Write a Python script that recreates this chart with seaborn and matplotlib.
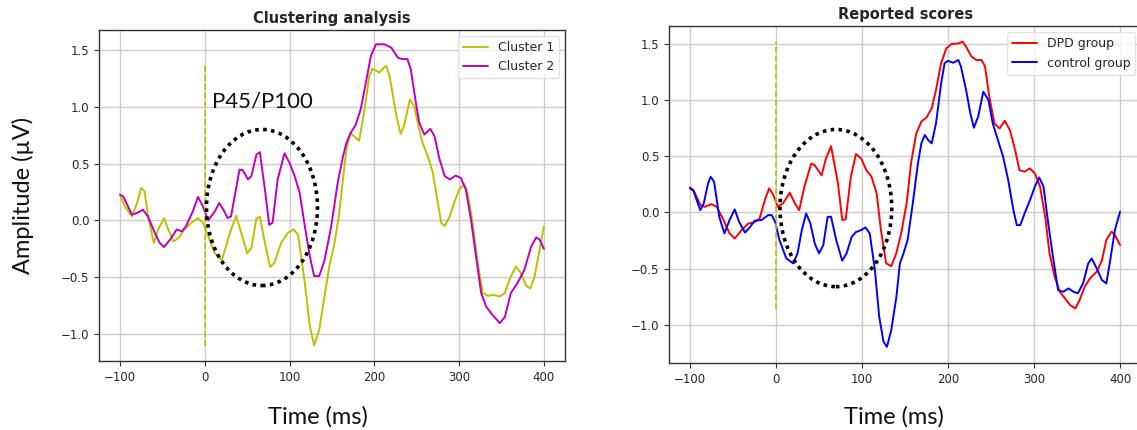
import numpy as np
import pandas as pd
import seaborn as sns
import matplotlib
matplotlib.use("Agg")
import matplotlib.pyplot as plt
from matplotlib.patches import Ellipse

# ---- data (time in ms, amplitude in uV) ----
t_cluster1 = [-100, -94, -86, -80, -75, -71, -67, -60, -55, -48, -43, -37, -31, -24, -16, -8, -2,
              4, 12, 20, 25, 31, 37, 43, 50, 55, 61, 65, 71, 77, 82, 90, 98, 105, 110, 118, 124,
              129, 135, 141, 147, 153, 158, 163, 167, 172, 176, 182, 188, 194, 198, 206, 210, 214,
              218, 226, 231, 235, 242, 247, 253, 257, 263, 269, 275, 279, 283, 289, 294, 300, 306,
              310, 316, 322, 328, 334, 340, 348, 354, 361, 367, 373, 379, 384, 389, 395, 400]
v_cluster1 = [0.226, 0.12, 0.035, 0.15, 0.285, 0.256, 0.035, -0.2, -0.08, 0.02, -0.08, -0.185,
              -0.156, -0.08, -0.024, 0.02, -0.024, -0.14, -0.29, -0.35, -0.23, -0.08, 0.04, -0.11,
              -0.29, -0.244, 0.02, 0.03, -0.2, -0.41, -0.376, -0.2, -0.11, -0.08, -0.126, -0.55,
              -0.935, -1.1, -0.965, -0.68, -0.4, -0.2, 0.03, 0.36, 0.62, 0.77, 0.74, 0.70, 0.95,
              1.27, 1.335, 1.30, 1.335, 1.36, 1.27, 0.92, 0.76, 0.83, 1.065, 1.005, 0.80, 0.68,
              0.565, 0.42, 0.15, -0.024, -0.05, 0.035, 0.153, 0.27, 0.32, 0.24, -0.024, -0.376,
              -0.64, -0.665, -0.656, -0.67, -0.64, -0.494, -0.406, -0.465, -0.576, -0.6, -0.494,
              -0.26, -0.053]

t_cluster2 = [-100, -96, -86, -80, -73, -67, -59, -53, -48, -41, -33, -27, -22, -14, -8, -2, 4,
              12, 17, 22, 27, 31, 41, 45, 51, 55, 61, 65, 71, 76, 80, 86, 94, 100, 106, 112, 118,
              124, 129, 135, 141, 149, 157, 163, 167, 172, 178, 184, 190, 196, 202, 212, 220, 228,
              233, 239, 243, 249, 253, 259, 266, 271, 277, 283, 289, 296, 302, 308, 314, 320, 326,
              332, 338, 348, 354, 361, 369, 377, 385, 391, 395, 400]
v_cluster2 = [0.226, 0.21, 0.05, 0.065, 0.094, 0.035, -0.11, -0.2, -0.235, -0.17, -0.08, -0.097,
              -0.05, 0.08, 0.206, 0.12, 0.0, 0.08, 0.153, 0.094, 0.02, 0.035, 0.447, 0.44, 0.36,
              0.39, 0.58, 0.6, 0.27, -0.04, -0.02, 0.36, 0.59, 0.506, 0.39, 0.24, -0.05, -0.32,
              -0.49, -0.49, -0.36, -0.06, 0.34, 0.56, 0.68, 0.77, 0.84, 0.98, 1.21, 1.45, 1.55,
              1.55, 1.52, 1.43, 1.42, 1.42, 1.33, 1.035, 0.86, 0.756, 0.806, 0.74, 0.535, 0.39,
              0.36, 0.394, 0.373, 0.27, 0.006, -0.32, -0.64, -0.76, -0.82, -0.905, -0.85, -0.64,
              -0.55, -0.435, -0.23, -0.15, -0.17, -0.25]

t_dpd = [-100, -96, -88, -83, -75, -69, -61, -54, -48, -40, -32, -26, -19, -13, -8, -3, 2, 8, 16,
         22, 27, 33, 41, 45, 53, 58, 64, 72, 77, 81, 87, 93, 99, 105, 111, 117, 122, 128, 134,
         140, 146, 152, 157, 163, 169, 175, 181, 186, 192, 198, 204, 212, 217, 221, 227, 233,
         239, 243, 248, 254, 260, 266, 272, 278, 283, 289, 295, 301, 307, 313, 318, 324, 330,
         336, 342, 348, 353, 359, 365, 373, 379, 384, 390, 394, 400]
v_dpd = [0.223, 0.2, 0.065, 0.05, 0.074, 0.05, -0.068, -0.187, -0.232, -0.157, -0.098, -0.092,
         -0.053, 0.11, 0.214, 0.154, 0.05, 0.08, 0.175, 0.08, 0.02, 0.23, 0.436, 0.42, 0.33,
         0.48, 0.59, 0.26, -0.068, -0.062, 0.318, 0.52, 0.48, 0.377, 0.318, 0.17, -0.157,
         -0.454, -0.478, -0.36, -0.17, 0.09, 0.44, 0.70, 0.81, 0.846, 0.926, 1.09, 1.33, 1.46,
         1.5, 1.505, 1.52, 1.476, 1.39, 1.357, 1.357, 1.3, 1.03, 0.79, 0.748, 0.816, 0.733,
         0.555, 0.377, 0.362, 0.392, 0.347, 0.23, -0.039, -0.365, -0.573, -0.707, -0.766,
         -0.825, -0.855, -0.78, -0.66, -0.588, -0.528, -0.425, -0.246, -0.172, -0.2, -0.29]

t_control = [-100, -96, -88, -84, -79, -76, -72, -66, -60, -54, -48, -43, -36, -30, -25, -17, -9,
             -5, -1, 4, 12, 20, 25, 30, 35, 40, 45, 50, 55, 60, 64, 70, 77, 82, 88, 93, 99, 104,
             109, 115, 120, 125, 129, 134, 140, 144, 148, 153, 159, 165, 169, 173, 177, 181, 186,
             192, 196, 200, 206, 212, 215, 221, 226, 230, 235, 241, 247, 252, 258, 264, 270, 276,
             280, 284, 289, 295, 301, 306, 311, 316, 322, 328, 334, 340, 346, 351, 357, 363, 367,
             373, 379, 384, 388, 394, 400]
v_control = [0.214, 0.193, 0.02, 0.08, 0.258, 0.318, 0.273, -0.039, -0.187, -0.068, 0.027,
             -0.083, -0.18, -0.128, -0.074, -0.068, -0.024, -0.024, -0.083, -0.246, -0.41, -0.454,
             -0.365, -0.157, -0.009, -0.098, -0.276, -0.365, -0.29, -0.039, -0.039, -0.246, -0.43,
             -0.365, -0.217, -0.175, -0.157, -0.134, -0.187, -0.514, -0.93, -1.152, -1.197,
             -1.048, -0.75, -0.454, -0.37, -0.246, 0.08, 0.436, 0.615, 0.69, 0.644, 0.615, 0.793,
             1.149, 1.33, 1.35, 1.333, 1.357, 1.3, 1.09, 0.88, 0.754, 0.852, 1.075, 1.0, 0.793,
             0.644, 0.496, 0.288, 0.02, -0.113, -0.113, -0.009, 0.104, 0.23, 0.312, 0.23, -0.068,
             -0.395, -0.692, -0.707, -0.677, -0.707, -0.72, -0.632, -0.454, -0.41, -0.5, -0.603,
             -0.632, -0.454, -0.157, 0.006]

onset_ms = 0
onset_span_left = [-1.11, 1.36]
onset_span_right = [-0.86, 1.52]
# dotted ellipse: centre (ms, uV), width (ms), height (uV)
ellipse_left = [(67.5, 0.113), 131, 1.374]
ellipse_right = [(69.6, 0.039), 130, 1.40]

sns.set_style("ticks", {"axes.grid": True, "grid.color": "#cccccc",
                        "axes.edgecolor": "#333333"})
plt.rcParams["xtick.labelsize"] = 8.5
plt.rcParams["ytick.labelsize"] = 8.5
plt.rcParams["grid.linewidth"] = 1.0
plt.rcParams["axes.linewidth"] = 1.0

fig = plt.figure(figsize=(11.37, 4.30), dpi=100)
ax1 = fig.add_axes([0.0871, 0.1605, 0.4099, 0.7698])
ax2 = fig.add_axes([0.5884, 0.1558, 0.4156, 0.7837])

df1 = pd.DataFrame({"t": t_cluster1, "v": v_cluster1})
df2 = pd.DataFrame({"t": t_cluster2, "v": v_cluster2})
df3 = pd.DataFrame({"t": t_dpd, "v": v_dpd})
df4 = pd.DataFrame({"t": t_control, "v": v_control})

sns.lineplot(data=df1, x="t", y="v", color="y", lw=1.4, label="Cluster 1", estimator=None, ax=ax1)
sns.lineplot(data=df2, x="t", y="v", color="m", lw=1.4, label="Cluster 2", estimator=None, ax=ax1)
sns.lineplot(data=df3, x="t", y="v", color="r", lw=1.4, label="DPD group", estimator=None, ax=ax2)
sns.lineplot(data=df4, x="t", y="v", color="b", lw=1.4, label="control group", estimator=None, ax=ax2)

ax1.plot([onset_ms, onset_ms], onset_span_left, "y--", lw=1.2)
ax2.plot([onset_ms, onset_ms], onset_span_right, "y--", lw=1.2)

for ax, (c, w, h) in [(ax1, ellipse_left), (ax2, ellipse_right)]:
    ax.add_patch(Ellipse(c, w, h, fill=False, edgecolor="black", lw=2.6,
                         linestyle=(0, (1, 1.2)), zorder=5))

ax1.text(8, 0.99, "P45/P100", fontsize=16, family=["Lato", "DejaVu Sans"],
         ha="left", va="baseline", color="#111111")

ax1.set_xlim(-124.7, 425)
ax1.set_ylim(-1.238, 1.676)
ax2.set_xlim(-124.4, 425)
ax2.set_ylim(-1.341, 1.66)

for ax, title in [(ax1, "Clustering analysis"), (ax2, "Reported scores")]:
    ax.set_xticks([-100, 0, 100, 200, 300, 400])
    ax.set_yticks([-1.0, -0.5, 0.0, 0.5, 1.0, 1.5])
    ax.set_xlabel("")
    ax.set_ylabel("")
    ax.set_title(title, fontsize=10.5, fontweight="bold", pad=5)
    ax.tick_params(length=3.5, width=0.8, colors="#333333", labelcolor="#262626")
    ax.legend(loc="upper right", fontsize=9, framealpha=0.8, edgecolor="#dddddd",
              fancybox=True)

fig.text(318 / 1137, 1 - 417 / 430, "Time (ms)", fontsize=17,
         family=["Lato", "DejaVu Sans"], ha="center", va="center", color="#111111")
fig.text(894 / 1137, 1 - 417 / 430, "Time (ms)", fontsize=17,
         family=["Lato", "DejaVu Sans"], ha="center", va="center", color="#111111")
fig.text(23 / 1137, 1 - 195 / 430, "Amplitude (\u00b5V)", fontsize=17, rotation=90,
         family=["Lato", "DejaVu Sans"], ha="center", va="center", color="#111111")

fig.savefig("out.png", dpi=100)
